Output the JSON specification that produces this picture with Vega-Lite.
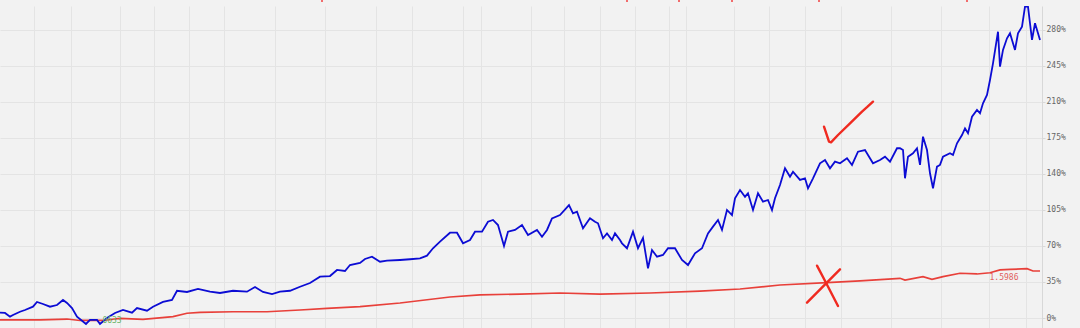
{
  "$schema": "https://vega.github.io/schema/vega-lite/v6.json",
  "autosize": {"type": "none"},
  "width": 1042,
  "height": 322,
  "padding": {"top": 6, "left": 0, "right": 38, "bottom": 0},
  "background": "#f2f2f2",
  "config": {
    "view": {"stroke": null, "fill": "#f2f2f2"},
    "axis": {"gridColor": "#e4e4e4", "gridWidth": 1}
  },
  "datasets": {
    "blue": [
      {"t":0,"v":5.2},{"t":5,"v":4.9},{"t":10,"v":1.3},{"t":13,"v":2.9},{"t":20,"v":6.1},{"t":25,"v":7.8},{"t":33,"v":11.0},{"t":37,"v":15.6},{"t":43,"v":13.6},{"t":50,"v":11.0},{"t":57,"v":12.6},{"t":63,"v":17.5},{"t":67,"v":14.6},{"t":72,"v":9.7},{"t":77,"v":1.3},{"t":86,"v":-5.8},{"t":90,"v":-1.9},{"t":97,"v":-1.9},{"t":100,"v":-5.8},{"t":107,"v":0},{"t":115,"v":4.9},{"t":123,"v":7.8},{"t":132,"v":5.2},{"t":137,"v":9.7},{"t":147,"v":7.1},{"t":153,"v":11.0},{"t":163,"v":15.6},{"t":172,"v":17.5},{"t":177,"v":26.5},{"t":187,"v":25.3},{"t":198,"v":28.2},{"t":210,"v":25.6},{"t":220,"v":24.3},{"t":233,"v":26.5},{"t":247,"v":25.6},{"t":255,"v":30.1},{"t":263,"v":25.3},{"t":272,"v":23.3},{"t":280,"v":25.6},{"t":290,"v":26.5},{"t":300,"v":30.4},{"t":310,"v":34.0},{"t":320,"v":40.2},{"t":330,"v":40.8},{"t":337,"v":46.7},{"t":345,"v":45.7},{"t":350,"v":51.5},{"t":360,"v":53.5},{"t":365,"v":57.4},{"t":372,"v":59.6},{"t":380,"v":54.7},{"t":387,"v":55.7},{"t":400,"v":56.4},{"t":410,"v":57.1},{"t":420,"v":58.0},{"t":427,"v":60.6},{"t":433,"v":67.8},{"t":440,"v":74.2},{"t":450,"v":82.9},{"t":457,"v":82.9},{"t":463,"v":72.6},{"t":470,"v":75.8},{"t":475,"v":83.9},{"t":482,"v":83.9},{"t":488,"v":93.6},{"t":493,"v":95.3},{"t":498,"v":90.4},{"t":504,"v":70.0},{"t":508,"v":83.9},{"t":515,"v":85.6},{"t":522,"v":90.4},{"t":528,"v":80.7},{"t":537,"v":85.6},{"t":542,"v":79.0},{"t":547,"v":85.6},{"t":552,"v":96.9},{"t":560,"v":100.1},{"t":569,"v":109.8},{"t":573,"v":101.8},{"t":577,"v":103.3},{"t":580,"v":95.3},{"t":583,"v":87.2},{"t":590,"v":96.9},{"t":595,"v":93.6},{"t":598,"v":92.1},{"t":603,"v":77.5},{"t":607,"v":82.3},{"t":612,"v":75.8},{"t":615,"v":82.3},{"t":620,"v":75.8},{"t":622,"v":72.6},{"t":627,"v":67.8},{"t":633,"v":83.9},{"t":638,"v":67.8},{"t":643,"v":77.8},{"t":648,"v":48.3},{"t":652,"v":66.1},{"t":657,"v":59.6},{"t":663,"v":61.3},{"t":668,"v":67.8},{"t":675,"v":67.8},{"t":682,"v":56.4},{"t":688,"v":51.5},{"t":695,"v":62.9},{"t":702,"v":67.8},{"t":708,"v":82.3},{"t":713,"v":88.8},{"t":718,"v":95.3},{"t":722,"v":85.6},{"t":727,"v":105.0},{"t":732,"v":100.1},{"t":735,"v":116.4},{"t":740,"v":124.4},{"t":745,"v":117.9},{"t":748,"v":121.2},{"t":753,"v":105.0},{"t":758,"v":121.2},{"t":763,"v":113.1},{"t":768,"v":114.7},{"t":772,"v":105.0},{"t":775,"v":116.4},{"t":780,"v":129.3},{"t":785,"v":145.5},{"t":790,"v":137.4},{"t":793,"v":142.2},{"t":800,"v":134.2},{"t":805,"v":135.8},{"t":808,"v":126.1},{"t":813,"v":135.8},{"t":820,"v":150.4},{"t":825,"v":153.6},{"t":830,"v":145.5},{"t":835,"v":152.0},{"t":840,"v":150.4},{"t":847,"v":155.3},{"t":852,"v":148.8},{"t":858,"v":161.7},{"t":865,"v":163.3},{"t":868,"v":158.5},{"t":873,"v":150.4},{"t":880,"v":153.6},{"t":885,"v":156.8},{"t":890,"v":152.0},{"t":897,"v":165.0},{"t":900,"v":165.0},{"t":903,"v":163.3},{"t":905,"v":135.8},{"t":908,"v":156.8},{"t":913,"v":160.1},{"t":917,"v":165.0},{"t":920,"v":148.8},{"t":923,"v":176.3},{"t":927,"v":163.3},{"t":930,"v":140.7},{"t":933,"v":126.1},{"t":937,"v":147.1},{"t":940,"v":148.8},{"t":943,"v":156.8},{"t":950,"v":160.1},{"t":953,"v":158.5},{"t":957,"v":169.8},{"t":962,"v":177.9},{"t":965,"v":184.4},{"t":968,"v":179.6},{"t":972,"v":195.7},{"t":977,"v":202.2},{"t":980,"v":199.0},{"t":983,"v":208.7},{"t":987,"v":216.8},{"t":990,"v":231.4},{"t":993,"v":247.6},{"t":998,"v":278.3},{"t":1000,"v":244.3},{"t":1003,"v":260.6},{"t":1007,"v":271.9},{"t":1010,"v":276.8},{"t":1015,"v":260.6},{"t":1018,"v":276.8},{"t":1022,"v":283.2},{"t":1025,"v":302.6},{"t":1028,"v":302.6},{"t":1032,"v":270.3},{"t":1035,"v":286.5},{"t":1038,"v":276.8},{"t":1040,"v":270.3}
    ],
    "red": [
      {"t":0,"v":-1.9},{"t":40,"v":-1.9},{"t":67,"v":-1.0},{"t":80,"v":-2.4},{"t":103,"v":-2.4},{"t":120,"v":-0.3},{"t":143,"v":-1.3},{"t":173,"v":1.3},{"t":187,"v":4.6},{"t":200,"v":5.5},{"t":233,"v":6.1},{"t":267,"v":6.1},{"t":300,"v":7.8},{"t":327,"v":9.4},{"t":360,"v":11.0},{"t":400,"v":14.6},{"t":450,"v":20.4},{"t":480,"v":22.4},{"t":520,"v":23.3},{"t":560,"v":24.3},{"t":600,"v":23.3},{"t":650,"v":24.3},{"t":700,"v":26.2},{"t":740,"v":28.2},{"t":780,"v":32.1},{"t":827,"v":34.3},{"t":860,"v":36.0},{"t":900,"v":38.6},{"t":905,"v":36.9},{"t":923,"v":40.2},{"t":932,"v":37.6},{"t":943,"v":40.2},{"t":960,"v":43.5},{"t":977,"v":42.8},{"t":990,"v":44.0},{"t":1000,"v":46.7},{"t":1010,"v":47.3},{"t":1027,"v":47.9},{"t":1033,"v":45.7},{"t":1040,"v":45.7}
    ],
    "marks": [
      {"stroke":"check","o":0,"t":824,"v":186.0},{"stroke":"check","o":1,"t":829,"v":171.4},{"stroke":"check","o":2,"t":831,"v":170.8},{"stroke":"check","o":3,"t":838,"v":177.9},{"stroke":"check","o":4,"t":850,"v":189.3},{"stroke":"check","o":5,"t":862,"v":200.6},{"stroke":"check","o":6,"t":867,"v":204.9},{"stroke":"check","o":7,"t":873,"v":210.3},
      {"stroke":"x1","o":0,"t":817,"v":50.9},{"stroke":"x1","o":1,"t":826,"v":34.3},{"stroke":"x1","o":2,"t":838,"v":11.7},
      {"stroke":"x2","o":0,"t":840,"v":47.3},{"stroke":"x2","o":1,"t":807,"v":14.9}
    ],
    "labels": [
      {"label":"1.5986","t":1004,"v":38.9,"kind":"red"},
      {"label":"0633","t":112,"v":-3.2,"kind":"green"}
    ],
    "events": [{"t":322},{"t":627},{"t":679},{"t":732},{"t":819},{"t":967}]
  },
  "layer": [
    {
      "data": {"name": "red"},
      "mark": {"type": "line", "color": "#e8403a", "strokeWidth": 1.7, "clip": true},
      "encoding": {
        "x": {"field": "t", "type": "quantitative",
          "scale": {"domain": [0, 1042], "nice": false, "zero": false},
          "axis": {"orient": "bottom", "values": [34,71,120,154,189,224,275,325,376,412,463,481,531,564,600,635,669,686,734,769,805,841,891,941,989,1026],
            "grid": true, "labels": false, "ticks": false, "domain": false, "title": null}},
        "y": {"field": "v", "type": "quantitative",
          "scale": {"domain": [-9.72, 303.3], "nice": false, "zero": false},
          "axis": {"orient": "right", "values": [0,35,70,105,140,175,210,245,280], "labelExpr": "datum.value + '%'",
            "grid": true, "title": null, "domainColor": "#d8d8d8", "tickColor": "#d8d8d8", "tickSize": 3, "labelPadding": 1,
            "labelFont": "DejaVu Sans Mono", "labelFontSize": 8, "labelColor": "#666666"}}
      }
    },
    {
      "data": {"name": "blue"},
      "mark": {"type": "line", "color": "#0c0cd4", "strokeWidth": 1.8, "clip": true},
      "encoding": {
        "x": {"field": "t", "type": "quantitative"},
        "y": {"field": "v", "type": "quantitative"}
      }
    },
    {
      "data": {"name": "labels"},
      "mark": {"type": "text", "font": "DejaVu Sans Mono", "fontSize": 8, "align": "center", "baseline": "middle"},
      "encoding": {
        "x": {"field": "t", "type": "quantitative"},
        "y": {"field": "v", "type": "quantitative"},
        "text": {"field": "label"},
        "color": {"field": "kind", "type": "nominal", "scale": {"domain": ["red","green"], "range": ["#e06060","#6ab56a"]}, "legend": null}
      }
    },
    {
      "data": {"name": "marks"},
      "mark": {"type": "line", "color": "#f02a20", "strokeWidth": 2.4, "strokeCap": "round", "strokeJoin": "round"},
      "encoding": {
        "x": {"field": "t", "type": "quantitative"},
        "y": {"field": "v", "type": "quantitative"},
        "detail": {"field": "stroke"},
        "order": {"field": "o"}
      }
    },
    {
      "data": {"name": "events"},
      "mark": {"type": "rule", "color": "#f04040", "strokeWidth": 1.5, "clip": false, "y": -6, "y2": -4},
      "encoding": {
        "x": {"field": "t", "type": "quantitative"}
      }
    }
  ]
}
